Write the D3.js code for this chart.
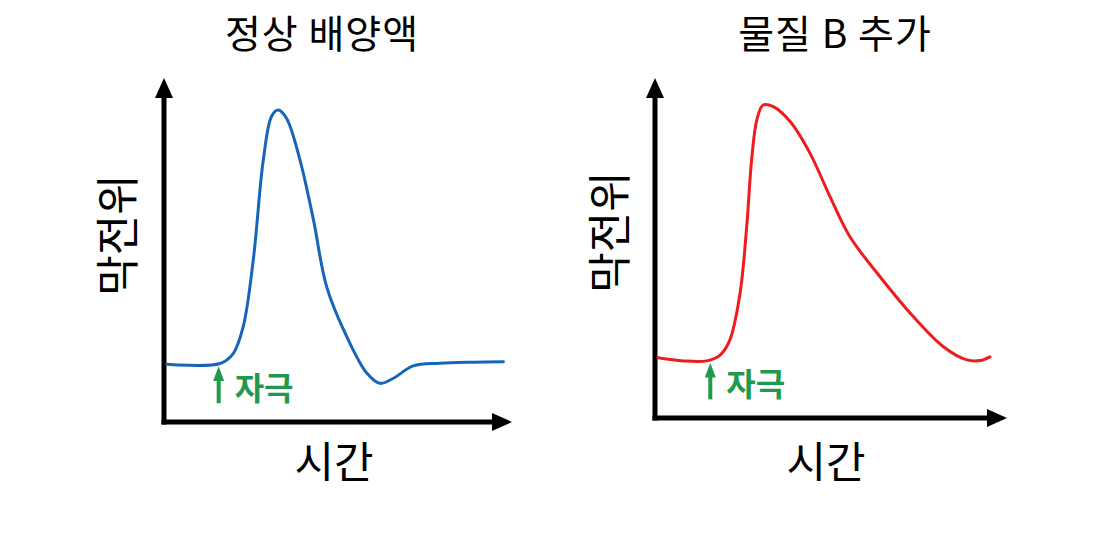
<!DOCTYPE html>
<html>
<head>
<meta charset="utf-8">
<script src="https://cdn.jsdelivr.net/npm/d3@7"></script>
<style>
  body { margin: 0; background: #fff; }
  svg { display: block; font-family: "Noto Sans CJK KR", "Noto Sans", sans-serif; }
</style>
</head>
<body>
<svg id="chart" width="1097" height="560"></svg>
<script>
// normal medium: time (a.u.) vs membrane potential (a.u.)
var normalTime = [0.8, 16.2, 20.0, 22.9, 25.8, 28.7, 31.1, 33.0, 35.4, 39.3, 43.2, 47.0, 52.8, 58.6, 62.4, 66.3, 72.0, 79.8, 89.4, 98.1];
var normalPotential = [16.9, 17.1, 20.0, 27.9, 47.4, 76.6, 89.4, 91.2, 88.8, 76.6, 59.1, 39.6, 25.0, 14.3, 11.3, 12.8, 16.4, 17.2, 17.5, 17.6];

// with substance B
var drugTime = [0.9, 8.1, 14.8, 18.6, 21.4, 24.3, 26.2, 27.6, 29.1, 30.9, 33.8, 38.6, 44.3, 50.0, 55.7, 64.3, 73.8, 82.4, 89.1, 92.9, 95.7];
var drugPotential = [17.8, 16.9, 16.9, 18.6, 23.1, 36.9, 56.6, 76.3, 88.2, 92.6, 92.1, 87.7, 78.3, 65.5, 53.6, 41.8, 30.0, 21.1, 17.2, 17.0, 18.1];

var stimulusTime = 15.8;
var titles = ['정상 배양액', '물질 B 추가'];
var yLabel = '막전위';
var xLabel = '시간';
var stimLabel = '자극';

var svg = d3.select('#chart');
var green = '#1f9a4c';

var panels = [
  { title: titles[0], time: normalTime, v: normalPotential, color: '#1565b8',
    x0: 164, x1: 510, y0: 422, y1: 80, titleX: 322, ylabX: 134, ylabY: 235, xlabX: 334 },
  { title: titles[1], time: drugTime, v: drugPotential, color: '#ee1c1c',
    x0: 655, x1: 1005, y0: 418, y1: 80, titleX: 835, ylabX: 626, ylabY: 232, xlabX: 826 }
];

panels.forEach(function(p) {
  var x = d3.scaleLinear().domain([0, 100]).range([p.x0, p.x1]);
  var y = d3.scaleLinear().domain([0, 100]).range([p.y0, p.y1]);
  var g = svg.append('g');

  // axes with arrow heads
  var ax = x(0), ay = y(0);
  g.append('line').attr('x1', ax).attr('y1', ay + 2.5).attr('x2', ax).attr('y2', y(100) + 16)
    .attr('stroke', '#000').attr('stroke-width', 5);
  g.append('line').attr('x1', ax - 2.5).attr('y1', ay).attr('x2', x(100) - 16).attr('y2', ay)
    .attr('stroke', '#000').attr('stroke-width', 5);
  g.append('path')
    .attr('d', 'M' + ax + ',' + (y(100) - 2) + 'L' + (ax - 9) + ',' + (y(100) + 18) + 'L' + (ax + 9) + ',' + (y(100) + 18) + 'Z')
    .attr('fill', '#000');
  g.append('path')
    .attr('d', 'M' + (x(100) + 2) + ',' + ay + 'L' + (x(100) - 18) + ',' + (ay - 9) + 'L' + (x(100) - 18) + ',' + (ay + 9) + 'Z')
    .attr('fill', '#000');

  // curve
  var line = d3.line()
    .x(function(d, i) { return x(p.time[i]); })
    .y(function(d) { return y(d); })
    .curve(d3.curveCatmullRom.alpha(0.5));
  g.append('path').datum(p.v).attr('d', line)
    .attr('fill', 'none').attr('stroke', p.color).attr('stroke-width', 3)
    .attr('stroke-linejoin', 'round').attr('stroke-linecap', 'round');

  // stimulus arrow
  var sx = x(stimulusTime);
  g.append('line').attr('x1', sx).attr('x2', sx).attr('y1', y(5.5)).attr('y2', y(13))
    .attr('stroke', green).attr('stroke-width', 4);
  g.append('path')
    .attr('d', 'M' + sx + ',' + (y(16) - 1) + 'L' + (sx - 5.5) + ',' + y(12) + 'L' + (sx + 5.5) + ',' + y(12) + 'Z')
    .attr('fill', green);
  g.append('text').attr('x', sx + 16).attr('y', y(6.5))
    .attr('font-size', 32).attr('font-weight', 'bold').attr('fill', green)
    .text(stimLabel);

  // titles and labels
  svg.append('text').attr('x', p.titleX).attr('y', 48).attr('text-anchor', 'middle')
    .attr('font-size', 39).attr('letter-spacing', 1).attr('fill', '#000').text(p.title);
  svg.append('text').attr('transform', 'translate(' + p.ylabX + ',' + p.ylabY + ') rotate(-90)')
    .attr('text-anchor', 'middle').attr('font-size', 44).attr('fill', '#000').text(yLabel);
  svg.append('text').attr('x', p.xlabX).attr('y', 478).attr('text-anchor', 'middle')
    .attr('font-size', 43).attr('fill', '#000').text(xLabel);
});
</script>
</body>
</html>
